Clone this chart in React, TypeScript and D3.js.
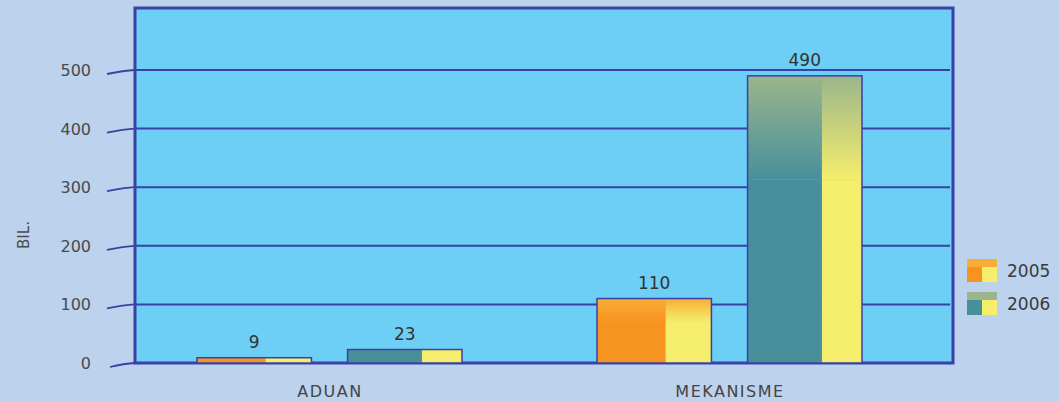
import { useEffect, useRef } from "react";
import * as d3 from "d3";

const categories = ["ADUAN", "MEKANISME"];
const years = ["2005", "2006"];
const values2005 = [9, 110];
const values2006 = [23, 490];
const yTicks = [0, 100, 200, 300, 400, 500];

const W = 1059;
const H = 402;

function App() {
  const ref = useRef<SVGSVGElement>(null);

  useEffect(() => {
    if (!ref.current) return;
    const svg = d3.select(ref.current);
    svg.selectAll("*").remove();

    const panel = { left: 135, top: 8, right: 953, bottom: 363 };
    const border = "#3b40a8";
    const font = "'DejaVu Sans', sans-serif";

    // colours per year: main (left) part, cap top colour
    const main = { "2005": "#f7941f", "2006": "#47909b" } as Record<string, string>;
    const capTop = { "2005": "#f8ad36", "2006": "#9bb58c" } as Record<string, string>;
    const yellow = "#f5ee6c";

    // background
    svg.append("rect").attr("width", W).attr("height", H).attr("fill", "#bdd2ed");

    const y = d3.scaleLinear().domain([0, 500]).range([panel.bottom, 70]);
    const x0 = d3.scaleBand().domain(categories).range([130, 930]);
    const x1 = d3.scaleBand().domain(years).range([67, 332]).paddingInner(0.24);

    const defs = svg.append("defs");
    years.forEach((yr) => {
      const gl = defs.append("linearGradient").attr("id", `capL${yr}`).attr("x1", 0).attr("x2", 0).attr("y1", 0).attr("y2", 1);
      gl.append("stop").attr("offset", "0%").attr("stop-color", capTop[yr]);
      gl.append("stop").attr("offset", "100%").attr("stop-color", main[yr]);
      const gr = defs.append("linearGradient").attr("id", `capR${yr}`).attr("x1", 0).attr("x2", 0).attr("y1", 0).attr("y2", 1);
      gr.append("stop").attr("offset", "0%").attr("stop-color", capTop[yr]);
      gr.append("stop").attr("offset", "100%").attr("stop-color", yellow);
    });

    // panel
    svg
      .append("rect")
      .attr("x", panel.left)
      .attr("y", panel.top)
      .attr("width", panel.right - panel.left)
      .attr("height", panel.bottom - panel.top)
      .attr("fill", "#6dcff5")
      .attr("stroke", border)
      .attr("stroke-width", 3);

    // grid lines + little slanted tick marks
    yTicks.forEach((t) => {
      const yy = y(t);
      if (t > 0) {
        svg
          .append("line")
          .attr("x1", panel.left)
          .attr("x2", panel.right - 3)
          .attr("y1", yy)
          .attr("y2", yy)
          .attr("stroke", border)
          .attr("stroke-width", 2);
      }
      svg
        .append("path")
        .attr("d", `M${107 + (t === 0 ? 3 : 0)},${yy + 4} Q124,${yy + 0.5} ${panel.left},${yy}`)
        .attr("fill", "none")
        .attr("stroke", border)
        .attr("stroke-width", 1.8);
      svg
        .append("text")
        .attr("x", 91)
        .attr("y", yy + 6)
        .attr("text-anchor", "end")
        .style("font-family", font)
        .style("font-size", "16px")
        .style("fill", "#4a4a4a")
        .text(String(t));
    });

    // y title
    svg
      .append("text")
      .attr("transform", "translate(29,235) rotate(-90)")
      .attr("text-anchor", "middle")
      .style("font-family", font)
      .style("font-size", "15px")
      .style("fill", "#4a4a4a")
      .text("BIL.");

    // bars
    const rows = categories.map((c, i) => ({ cat: c, vals: [values2005[i], values2006[i]] }));
    rows.forEach((row) => {
      const g = svg.append("g").attr("transform", `translate(${x0(row.cat)},0)`);
      row.vals.forEach((v, j) => {
        const yr = years[j];
        const bx = x1(yr)!;
        const bw = x1.bandwidth();
        const top = y(v);
        const h = panel.bottom - top;
        const split = bw * (yr === "2005" ? 0.6 : 0.65);
        const cap = h > 30 ? h * 0.36 : 0;
        g.append("rect").attr("x", bx).attr("y", top + cap).attr("width", split).attr("height", h - cap).attr("fill", main[yr]);
        g.append("rect").attr("x", bx + split).attr("y", top + cap).attr("width", bw - split).attr("height", h - cap).attr("fill", yellow);
        if (cap > 0) {
          g.append("rect").attr("x", bx).attr("y", top).attr("width", split).attr("height", cap).attr("fill", `url(#capL${yr})`);
          g.append("rect").attr("x", bx + split).attr("y", top).attr("width", bw - split).attr("height", cap).attr("fill", `url(#capR${yr})`);
        }
        g.append("rect")
          .attr("x", bx)
          .attr("y", top)
          .attr("width", bw)
          .attr("height", h)
          .attr("fill", "none")
          .attr("stroke", border)
          .attr("stroke-width", 1.5);
        g.append("text")
          .attr("x", bx + bw / 2)
          .attr("y", top - 10)
          .attr("text-anchor", "middle")
          .style("font-family", font)
          .style("font-size", "17px")
          .style("fill", "#333")
          .text(String(v));
      });
      svg
        .append("text")
        .attr("x", x0(row.cat)! + x0.bandwidth() / 2)
        .attr("y", 397)
        .attr("text-anchor", "middle")
        .style("font-family", font)
        .style("font-size", "16px")
        .style("letter-spacing", "1.5px")
        .style("fill", "#444")
        .text(row.cat);
    });

    // legend
    const legend = svg.append("g").attr("transform", "translate(967,259)");
    years.forEach((yr, i) => {
      const lg = legend.append("g").attr("transform", `translate(0,${i * 33})`);
      lg.append("rect").attr("x", 0).attr("y", 0).attr("width", 30).attr("height", 8).attr("fill", capTop[yr]);
      lg.append("rect").attr("x", 0).attr("y", 8).attr("width", 15).attr("height", 15).attr("fill", main[yr]);
      lg.append("rect").attr("x", 15).attr("y", 8).attr("width", 15).attr("height", 15).attr("fill", yellow);
      lg.append("text")
        .attr("x", 40)
        .attr("y", 18)
        .style("font-family", font)
        .style("font-size", "17px")
        .style("fill", "#3a3a3a")
        .text(yr);
    });
  }, []);

  return (
    <svg
      ref={ref}
      width={W}
      height={H}
      viewBox={`0 0 ${W} ${H}`}
      style={{ position: "absolute", left: 0, top: 0 }}
    />
  );
}

export default App;
